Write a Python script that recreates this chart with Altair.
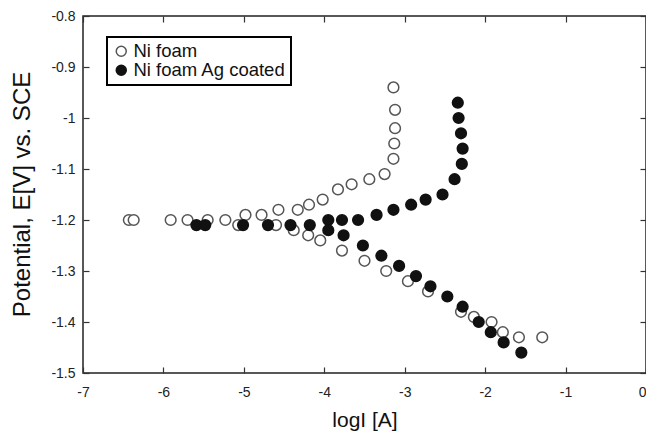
import altair as alt
import pandas as pd

series = ["Ni foam", "Ni foam Ag coated"]

ni_x = [-6.43, -6.37, -5.91, -5.70, -5.45, -5.23, -4.98, -4.78, -4.57, -4.33, -4.19,
        -4.02, -3.83, -3.66, -3.44, -3.25, -3.14, -3.13, -3.12, -3.12, -3.14,
        -5.07, -4.60, -4.38, -4.20, -4.05, -3.78, -3.50, -3.23, -2.96, -2.71,
        -2.30, -2.14, -1.92, -1.78, -1.58, -1.29]
ni_y = [-1.20, -1.20, -1.20, -1.20, -1.20, -1.20, -1.19, -1.19, -1.18, -1.18, -1.17,
        -1.16, -1.14, -1.13, -1.12, -1.11, -1.08, -1.05, -1.02, -0.984, -0.94,
        -1.21, -1.21, -1.22, -1.23, -1.24, -1.26, -1.28, -1.30, -1.32, -1.34,
        -1.38, -1.39, -1.40, -1.42, -1.43, -1.43]

ag_x = [-5.59, -5.48, -5.01, -4.70, -4.42, -4.18, -3.95, -3.78, -3.58, -3.35, -3.14,
        -2.92, -2.74, -2.53, -2.38, -2.29, -2.28, -2.30, -2.33, -2.34,
        -3.95, -3.76, -3.52, -3.29, -3.07, -2.86, -2.68, -2.47, -2.28, -2.08,
        -1.93, -1.77, -1.55]
ag_y = [-1.21, -1.21, -1.21, -1.21, -1.21, -1.21, -1.20, -1.20, -1.20, -1.19, -1.18,
        -1.17, -1.16, -1.15, -1.12, -1.09, -1.06, -1.03, -1.00, -0.97,
        -1.22, -1.23, -1.25, -1.27, -1.29, -1.31, -1.33, -1.35, -1.37, -1.40,
        -1.42, -1.44, -1.46]

x_ticks = [-7, -6, -5, -4, -3, -2, -1, 0]
y_ticks = [-0.8, -0.9, -1.0, -1.1, -1.2, -1.3, -1.4, -1.5]

df = pd.DataFrame({
    "logI": ni_x + ag_x,
    "E": ni_y + ag_y,
    "series": [series[0]] * len(ni_x) + [series[1]] * len(ag_x),
})

xs = alt.Scale(domain=[-7, 0], nice=False, zero=False)
ys = alt.Scale(domain=[-1.5, -0.8], nice=False, zero=False)

legend = alt.Legend(orient="none", legendX=24, legendY=21, strokeColor="black",
                    fillColor="white", padding=5, labelFontSize=18.5,
                    labelColor="#111", symbolSize=100, symbolStrokeWidth=1.5,
                    symbolType="circle", rowPadding=0, labelOffset=3, cornerRadius=0)

points = alt.Chart(df).mark_point(shape="circle", filled=True, size=115,
                                  strokeWidth=1.5, opacity=1).encode(
    x=alt.X("logI:Q", scale=xs, title="logI [A]",
            axis=alt.Axis(orient="bottom", values=x_ticks, ticks=False, tickSize=0,
                          domain=False, grid=False, labelFlush=False, labelFontSize=14,
                          labelPadding=12, labelColor="#222",
                          labelExpr="toString(datum.value)",
                          labelAlign={"condition": {"test": "datum.value == 0",
                                                    "value": "right"},
                                      "value": "center"},
                          titleFontSize=21, titleFontWeight="normal", titleColor="#111",
                          titleX=281.5, titleY=53, titleBaseline="alphabetic",
                          titleAlign="center")),
    y=alt.Y("E:Q", scale=ys, title="Potential, E[V] vs. SCE",
            axis=alt.Axis(orient="left", values=y_ticks, ticks=False, tickSize=0,
                          domain=False, grid=False, labelFontSize=14, labelPadding=8,
                          labelColor="#222", labelOverlap=False,
                          labelExpr="toString(datum.value)",
                          titleFontSize=24, titleFontWeight="normal", titleColor="#111",
                          titleX=-61, titleY=178, titleAngle=270,
                          titleBaseline="middle", titleAlign="center")),
    fill=alt.Fill("series:N", scale=alt.Scale(domain=series, range=["white", "#111"]),
                  title=None, legend=legend),
    stroke=alt.Stroke("series:N", scale=alt.Scale(domain=series, range=["#555", "#111"]),
                      title=None, legend=legend),
)

ticks_in_a = alt.Chart(df).mark_point(opacity=0).encode(
    x=alt.X("logI:Q", scale=xs, title=None,
            axis=alt.Axis(orient="bottom", values=x_ticks, labels=False, domain=False,
                          grid=False, ticks=True, tickSize=6, offset=-6,
                          tickColor="#333", tickWidth=1.2)),
    y=alt.Y("E:Q", scale=ys, title=None,
            axis=alt.Axis(orient="left", values=y_ticks, labels=False, domain=False,
                          grid=False, ticks=True, tickSize=6, offset=-6,
                          tickColor="#333", tickWidth=1.2)),
)

ticks_in_b = alt.Chart(df).mark_point(opacity=0).encode(
    x=alt.X("logI:Q", scale=xs, title=None,
            axis=alt.Axis(orient="top", values=x_ticks, labels=False, domain=False,
                          grid=False, ticks=True, tickSize=6, offset=-6,
                          tickColor="#333", tickWidth=1.2)),
    y=alt.Y("E:Q", scale=ys, title=None,
            axis=alt.Axis(orient="right", values=y_ticks, labels=False, domain=False,
                          grid=False, ticks=True, tickSize=6, offset=-6,
                          tickColor="#333", tickWidth=1.2)),
)

chart = alt.layer(ticks_in_a, ticks_in_b, points).resolve_axis(
    x="independent", y="independent"
).properties(
    width=563, height=357,
    autosize=alt.AutoSizeParams(type="none"),
    padding={"left": 75, "top": 8, "right": 0, "bottom": 58},
).configure(font="Liberation Sans").configure_view(
    stroke="#222", strokeWidth=1.5
).configure_legend(strokeWidth=2)

chart.save("out.html", embed_options={"renderer": "svg", "actions": False})
